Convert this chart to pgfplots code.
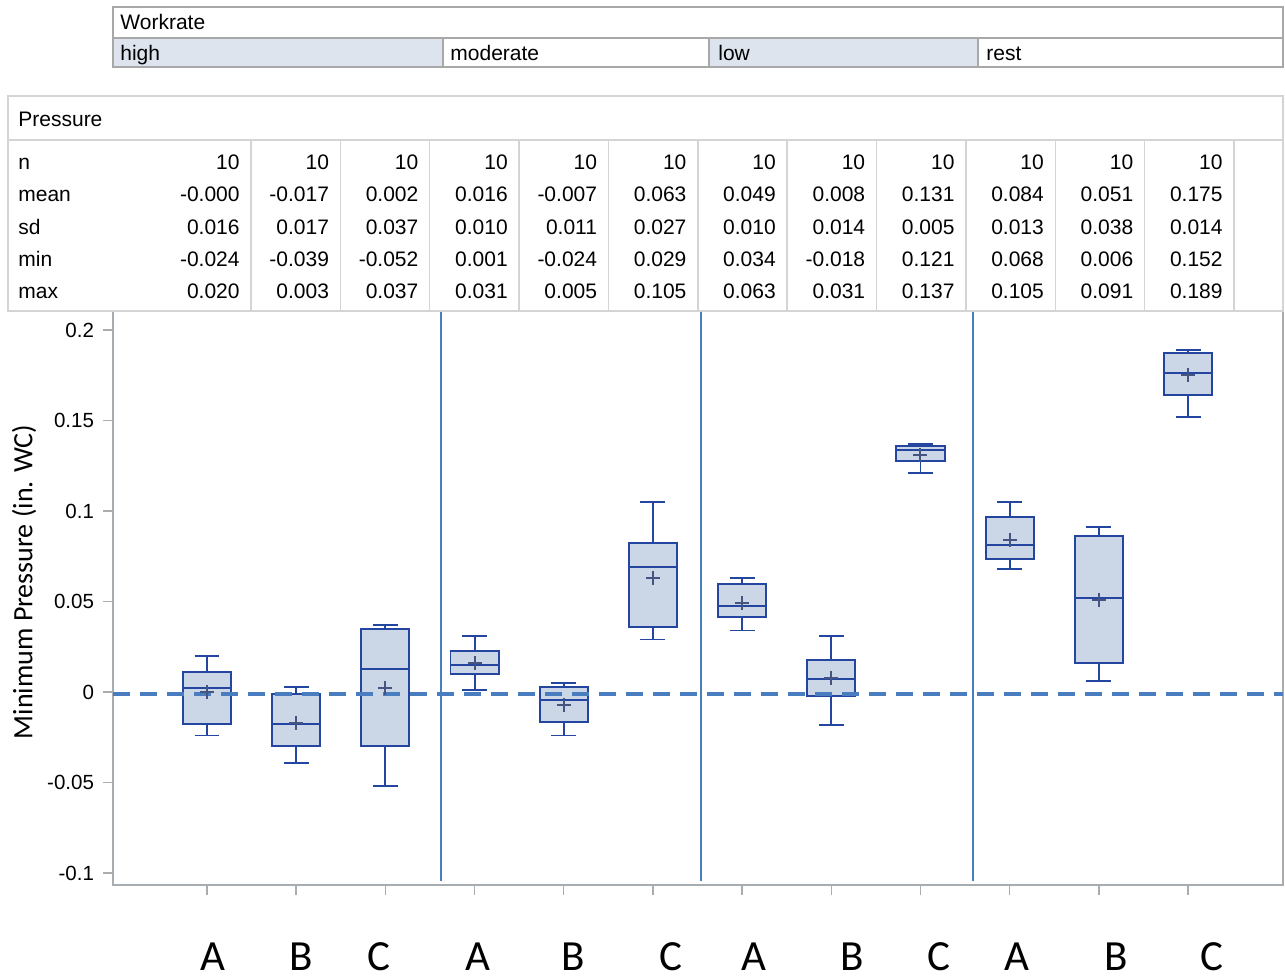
\documentclass[border=0pt]{standalone}
\usepackage{pgfplots}
\pgfplotsset{compat=1.18}
\usepgfplotslibrary{statistics}
\usepackage{fontspec}
\setmainfont{Liberation Sans}
\newfontfamily\carlito{Carlito}
\definecolor{boxedge}{HTML}{2446A0}
\definecolor{boxfill}{HTML}{CBD6E6}
\definecolor{meancol}{HTML}{46557F}
\definecolor{refline}{HTML}{4A7CC0}
\definecolor{axgray}{HTML}{A8ADB2}
\definecolor{tblgray}{HTML}{D4D4D4}
\definecolor{wrgray}{HTML}{A8A8A8}
\definecolor{cellfill}{HTML}{DDE4EE}
\pgfplotsset{mybox/.style={boxplot prepared={draw direction=y, box extend=0.54, whisker extend=0.28,
   every median/.style={draw=boxedge, line width=1pt}, #1},
  draw=boxedge, fill=boxfill, line width=0.95pt, solid, mark=none}}
\begin{document}
\begin{tikzpicture}
\path[use as bounding box] (0,0) rectangle (642.5pt,-489pt);
\begin{axis}[
  at={(56.5pt,-442.5pt)}, anchor=south west,
  scale only axis, width=585pt, height=287pt,
  xmin=-1.054, xmax=12.065, ymin=-0.1066, ymax=0.2105,
  xtick={0,1,2,3,4,5,6,7,8,9,10,11}, xticklabels={},
  ytick={-0.1,-0.05,0,0.05,0.1,0.15,0.2},
  yticklabels={-0.1,-0.05,0,0.05,0.1,0.15,0.2},
  /pgf/number format/assume math mode=true,
  tick pos=left, tick align=outside, major tick length=5pt,
  tick style={axgray, line width=0.75pt},
  axis line style={axgray, line width=0.8pt},
  yticklabel style={font=\fontsize{10.25}{12}\selectfont, xshift=-1pt},
  ylabel={Minimum Pressure (in. WC)},
  every axis y label/.style={at={(axis description cs:-0.0761,0.528)}, rotate=90, anchor=center,
     font=\carlito\fontsize{14}{16}\selectfont},
]
% high
\addplot[mybox={draw position=0, lower whisker=-0.024, lower quartile=-0.0177, median=0.0022, upper quartile=0.011, upper whisker=0.020}] coordinates {};
\addplot[mybox={draw position=1, lower whisker=-0.039, lower quartile=-0.030, median=-0.0177, upper quartile=-0.001, upper whisker=0.003}] coordinates {};
\addplot[mybox={draw position=2, lower whisker=-0.052, lower quartile=-0.030, median=0.0129, upper quartile=0.0346, upper whisker=0.037}] coordinates {};
% moderate
\addplot[mybox={draw position=3, lower whisker=0.001, lower quartile=0.0099, median=0.0151, upper quartile=0.0227, upper whisker=0.031}] coordinates {};
\addplot[mybox={draw position=4, lower whisker=-0.024, lower quartile=-0.0166, median=-0.0046, upper quartile=0.0029, upper whisker=0.005}] coordinates {};
\addplot[mybox={draw position=5, lower whisker=0.029, lower quartile=0.0357, median=0.0692, upper quartile=0.0822, upper whisker=0.105}] coordinates {};
% low
\addplot[mybox={draw position=6, lower whisker=0.034, lower quartile=0.0416, median=0.0477, upper quartile=0.0595, upper whisker=0.063}] coordinates {};
\addplot[mybox={draw position=7, lower whisker=-0.018, lower quartile=-0.002, median=0.0070, upper quartile=0.0179, upper whisker=0.031}] coordinates {};
\addplot[mybox={draw position=8, lower whisker=0.121, lower quartile=0.1276, median=0.1335, upper quartile=0.1357, upper whisker=0.137}] coordinates {};
% rest
\addplot[mybox={draw position=9, lower whisker=0.068, lower quartile=0.0733, median=0.081, upper quartile=0.0969, upper whisker=0.105}] coordinates {};
\addplot[mybox={draw position=10, lower whisker=0.006, lower quartile=0.016, median=0.0518, upper quartile=0.086, upper whisker=0.091}] coordinates {};
\addplot[mybox={draw position=11, lower whisker=0.152, lower quartile=0.1643, median=0.1762, upper quartile=0.1871, upper whisker=0.189}] coordinates {};
% means
\addplot[only marks, mark=+, mark size=3.5pt, meancol, mark options={line width=1pt, solid}] coordinates {
(0,-0.000) (1,-0.017) (2,0.002) (3,0.016) (4,-0.007) (5,0.063)
(6,0.049) (7,0.008) (8,0.131) (9,0.084) (10,0.051) (11,0.175)};
% group separators
\addplot[refline, line width=1pt, mark=none] coordinates {(2.624,-0.1044) (2.624,0.2105)};
\addplot[refline, line width=1pt, mark=none] coordinates {(5.539,-0.1044) (5.539,0.2105)};
\addplot[refline, line width=1pt, mark=none] coordinates {(8.589,-0.1044) (8.589,0.2105)};
% reference line
\addplot[refline, line width=2pt, mark=none, dash pattern=on 8.5pt off 5pt] coordinates {(-1.054,-0.0012) (12.065,-0.0012)};
\end{axis}
\begin{scope}[x=0.5pt, y=-0.5pt, every node/.style={inner sep=0pt, font=\fontsize{10.5}{12}\selectfont}]
% Workrate table
\fill[cellfill] (113,38) rectangle (443,67);
\fill[cellfill] (709,38) rectangle (978,67);
\draw[wrgray, line width=0.75pt] (113,7) rectangle (1283,67);
\draw[wrgray, line width=0.75pt] (113,38) -- (1283,38);
\foreach \x in {443,709,978} \draw[wrgray, line width=0.75pt] (\x,38) -- (\x,67);
\node[anchor=base west] at (120,29.5) {Workrate};
\node[anchor=base west] at (120,60.5) {high};
\node[anchor=base west] at (450,60.5) {moderate};
\node[anchor=base west] at (718,60.5) {low};
\node[anchor=base west] at (986,60.5) {rest};
% Pressure table
\draw[tblgray, line width=0.75pt] (8,96) rectangle (1283,311);
\draw[tblgray, line width=0.75pt] (8,140) -- (1283,140);
\foreach \i in {0,...,11} \draw[tblgray, line width=0.75pt] ({251+89.36*\i},140) -- ({251+89.36*\i},311);
\node[anchor=base west] at (18,126.5) {Pressure};
\node[anchor=base west] at (18,169.5) {n};
\node[anchor=base west] at (18,201.5) {mean};
\node[anchor=base west] at (18,234.5) {sd};
\node[anchor=base west] at (18,266.5) {min};
\node[anchor=base west] at (18,298.5) {max};
\foreach \v [count=\i from 0] in {10,10,10,10,10,10,10,10,10,10,10,10}
  \node[anchor=base east] at ({240+89.36*\i},169.5) {\v};
\foreach \v [count=\i from 0] in {-0.000,-0.017,0.002,0.016,-0.007,0.063,0.049,0.008,0.131,0.084,0.051,0.175}
  \node[anchor=base east] at ({240+89.36*\i},201.5) {\v};
\foreach \v [count=\i from 0] in {0.016,0.017,0.037,0.010,0.011,0.027,0.010,0.014,0.005,0.013,0.038,0.014}
  \node[anchor=base east] at ({240+89.36*\i},234.5) {\v};
\foreach \v [count=\i from 0] in {-0.024,-0.039,-0.052,0.001,-0.024,0.029,0.034,-0.018,0.121,0.068,0.006,0.152}
  \node[anchor=base east] at ({240+89.36*\i},266.5) {\v};
\foreach \v [count=\i from 0] in {0.020,0.003,0.037,0.031,0.005,0.105,0.063,0.031,0.137,0.105,0.091,0.189}
  \node[anchor=base east] at ({240+89.36*\i},298.5) {\v};
% category labels
\foreach \x/\l in {213/A,301/B,379/C,478/A,573/B,671/C,754/A,852/B,939/C,1017/A,1116/B,1212/C}
  \node[anchor=base, font=\carlito\fontsize{21.5}{24}\selectfont] at (\x,970) {\l};
\end{scope}
\end{tikzpicture}
\end{document}
